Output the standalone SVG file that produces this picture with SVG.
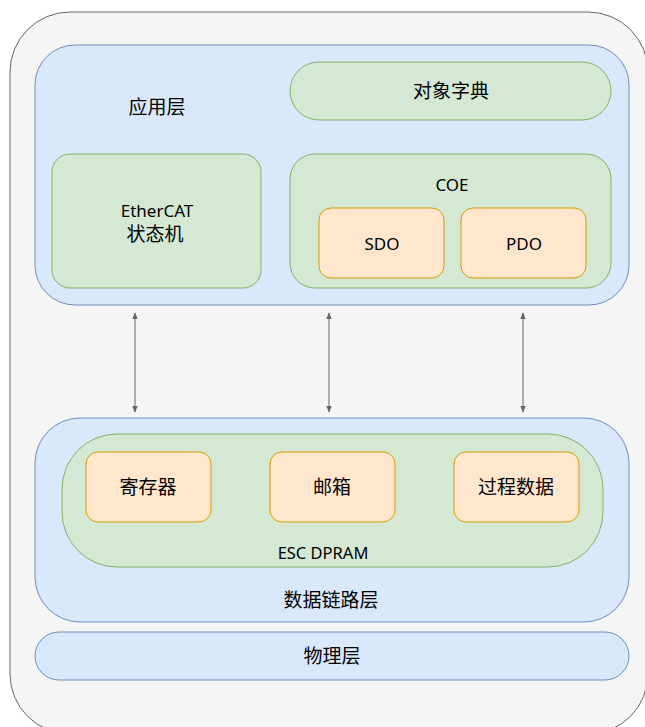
<svg xmlns="http://www.w3.org/2000/svg" width="645" height="727" viewBox="0 0 645 727">
<defs>
<style>
.outer{fill:#f5f5f5;stroke:#666666;stroke-width:1}
.blue{fill:#dae8fc;stroke:#6c8ebf;stroke-width:1}
.green{fill:#d5e8d4;stroke:#82b366;stroke-width:1}
.orange{fill:#ffe6cc;stroke:#d79b00;stroke-width:1}
text{font-family:"Noto Sans","Noto Sans CJK SC",sans-serif;fill:#000;text-anchor:middle;dominant-baseline:central}
.l{font-size:19px}
.m{font-size:17px}
.s{font-size:16.5px}
.conn{stroke:#666666;stroke-width:1;fill:none}
</style>
<marker id="ah" viewBox="0 0 10 10" refX="9" refY="5" markerWidth="7" markerHeight="7" orient="auto-start-reverse" markerUnits="userSpaceOnUse">
<path d="M0,1 L10,5 L0,9 Z" fill="#666666"/>
</marker>
</defs>
<g id="container"><rect class="outer" x="10" y="12" width="638" height="722" rx="60"/></g>
<g id="app-layer"><rect class="blue" x="35" y="45" width="594" height="260" rx="40"/><text class="l" x="157" y="107">应用层</text></g>
<g id="object-dict"><rect class="green" x="290" y="62" width="321" height="58" rx="29"/><text class="l" x="451" y="91">对象字典</text></g>
<g id="state-machine"><rect class="green" x="52" y="154" width="209" height="134" rx="18"/><text class="m" x="157" y="210">EtherCAT</text><text class="l" x="155" y="234">状态机</text></g>
<g id="coe"><rect class="green" x="290" y="154" width="321" height="134" rx="25"/><text class="m" x="452" y="184">COE</text></g>
<g id="sdo"><rect class="orange" x="319" y="208" width="125" height="70" rx="12"/><text class="m" x="382" y="243">SDO</text></g>
<g id="pdo"><rect class="orange" x="461" y="208" width="125" height="70" rx="12"/><text class="m" x="524" y="243">PDO</text></g>
<g id="dl-layer"><rect class="blue" x="35" y="418" width="594" height="204" rx="45"/><text class="l" x="331" y="600">数据链路层</text></g>
<g id="dpram"><rect class="green" x="62" y="434" width="541" height="133" rx="55"/><text class="s" x="323" y="552">ESC DPRAM</text></g>
<g id="registers"><rect class="orange" x="86" y="452" width="125" height="70" rx="12"/><text class="l" x="148" y="487">寄存器</text></g>
<g id="mailbox"><rect class="orange" x="270" y="452" width="125" height="70" rx="12"/><text class="l" x="332" y="487">邮箱</text></g>
<g id="process-data"><rect class="orange" x="454" y="452" width="125" height="70" rx="12"/><text class="l" x="516" y="487">过程数据</text></g>
<g id="phy-layer"><rect class="blue" x="35" y="632" width="594" height="48" rx="24"/><text class="l" x="332" y="656">物理层</text></g>
<g id="connectors">
<line class="conn" x1="135" y1="313" x2="135" y2="412" marker-start="url(#ah)" marker-end="url(#ah)"/>
<line class="conn" x1="329" y1="313" x2="329" y2="412" marker-start="url(#ah)" marker-end="url(#ah)"/>
<line class="conn" x1="523" y1="313" x2="523" y2="412" marker-start="url(#ah)" marker-end="url(#ah)"/>
</g>
</svg>
